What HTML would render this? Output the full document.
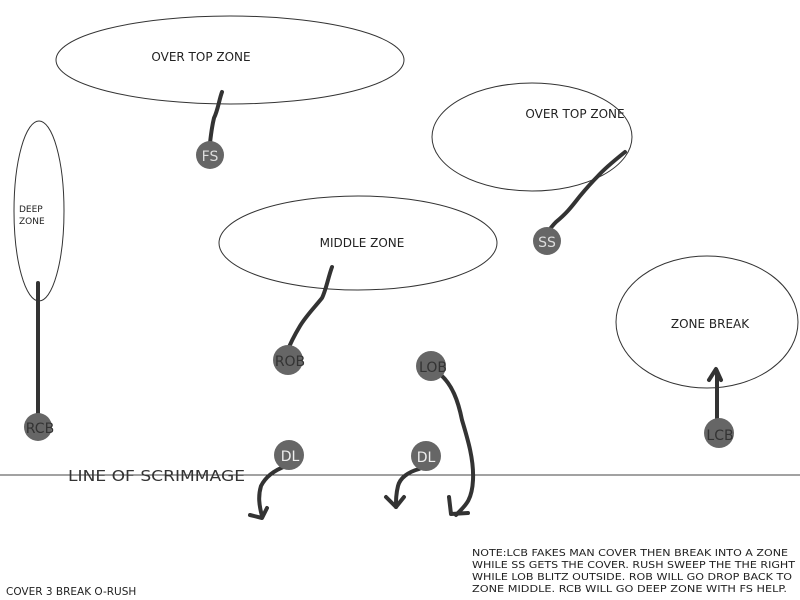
<!DOCTYPE html>
<html><head><style>
html,body{margin:0;padding:0;background:#fff;}
svg{display:block;}
text{font-family:"DejaVu Sans","Liberation Sans",sans-serif;}
</style></head><body>
<svg width="800" height="600" viewBox="0 0 800 600" xmlns="http://www.w3.org/2000/svg">
<g fill="none" stroke="#333" stroke-width="1">
<ellipse cx="230" cy="60" rx="174" ry="44"/>
<ellipse cx="532" cy="137" rx="100" ry="54"/>
<ellipse cx="39" cy="211" rx="25" ry="90"/>
<ellipse cx="358" cy="243" rx="139" ry="47"/>
<ellipse cx="707" cy="322" rx="91" ry="66"/>
</g>
<line x1="0" y1="475" x2="800" y2="475" stroke="#444" stroke-width="1"/>
<g font-size="12" fill="#222">
<text x="201" y="61" text-anchor="middle">OVER TOP ZONE</text>
<text x="575" y="118" text-anchor="middle">OVER TOP ZONE</text>
<text x="362" y="247" text-anchor="middle">MIDDLE ZONE</text>
<text x="710" y="328" text-anchor="middle">ZONE BREAK</text>
<text x="19" y="212" font-size="9">DEEP</text>
<text x="19" y="224" font-size="9">ZONE</text>
</g>
<g fill="none" stroke="#333" stroke-width="4" stroke-linecap="round" stroke-linejoin="round">
<path d="M222 92 C219 100 218 110 214 118 C212 126 211 134 210 143"/>
<path d="M625 152 C615 160 605 168 598 176 C590 184 585 190 580 196 C572 206 568 212 556 222 C550 228 546 234 546 240"/>
<path d="M332 267 C328 278 326 290 322 298 C314 308 306 316 300 326 C294 336 290 344 287 352"/>
<path d="M38 283 L38 425"/>
<path d="M717 420 L717 372"/>
<path d="M709 380 L716 369 L721 380"/>
<path d="M441 375 C452 385 458 400 462 420 C468 440 474 460 473 480 C472 500 466 505 456 515"/>
<path d="M449 497 L451 514 L468 513"/>
<path d="M286 466 C275 470 266 476 261 486 C258 496 259 505 262 516"/>
<path d="M250 515 L262 518 L267 508"/>
<path d="M419 469 C408 472 400 478 398 486 C396 494 396 500 396 507"/>
<path d="M386 497 L396 507 L404 497"/>
</g>
<g fill="#666">
<circle cx="210" cy="155" r="14"/>
<circle cx="547" cy="241" r="14"/>
<circle cx="288" cy="360" r="15"/>
<circle cx="431" cy="366" r="15"/>
<circle cx="38" cy="427" r="14"/>
<circle cx="719" cy="433" r="15"/>
<circle cx="289" cy="455" r="15"/>
<circle cx="426" cy="456" r="15"/>
</g>
<g font-family="Liberation Serif,serif" font-size="14" text-anchor="middle">
<text x="210" y="161" fill="#ddd">FS</text>
<text x="547" y="247" fill="#ddd">SS</text>
<text x="290" y="366" fill="#333">ROB</text>
<text x="433" y="372" fill="#333">LOB</text>
<text x="40" y="433" fill="#333">RCB</text>
<text x="720" y="440" fill="#333">LCB</text>
<text x="290" y="461" fill="#eee">DL</text>
<text x="426" y="462" fill="#eee">DL</text>
</g>
<text x="68" y="481" fill="#333" font-family="Liberation Serif,serif" font-size="15" textLength="177" lengthAdjust="spacingAndGlyphs">LINE OF SCRIMMAGE</text>
<g font-size="9.5" fill="#222">
<text x="472" y="556" textLength="316" lengthAdjust="spacingAndGlyphs">NOTE:LCB FAKES MAN COVER THEN BREAK INTO A ZONE</text>
<text x="472" y="568" textLength="323" lengthAdjust="spacingAndGlyphs">WHILE SS GETS THE COVER.  RUSH SWEEP THE THE RIGHT</text>
<text x="472" y="580" textLength="320" lengthAdjust="spacingAndGlyphs">WHILE LOB BLITZ OUTSIDE.  ROB WILL GO DROP BACK TO</text>
<text x="472" y="592" textLength="315" lengthAdjust="spacingAndGlyphs">ZONE MIDDLE. RCB WILL GO DEEP ZONE WITH FS HELP.</text>
<text x="6" y="595" font-size="10.5">COVER 3 BREAK O-RUSH</text>
</g>
</svg>
</body></html>
